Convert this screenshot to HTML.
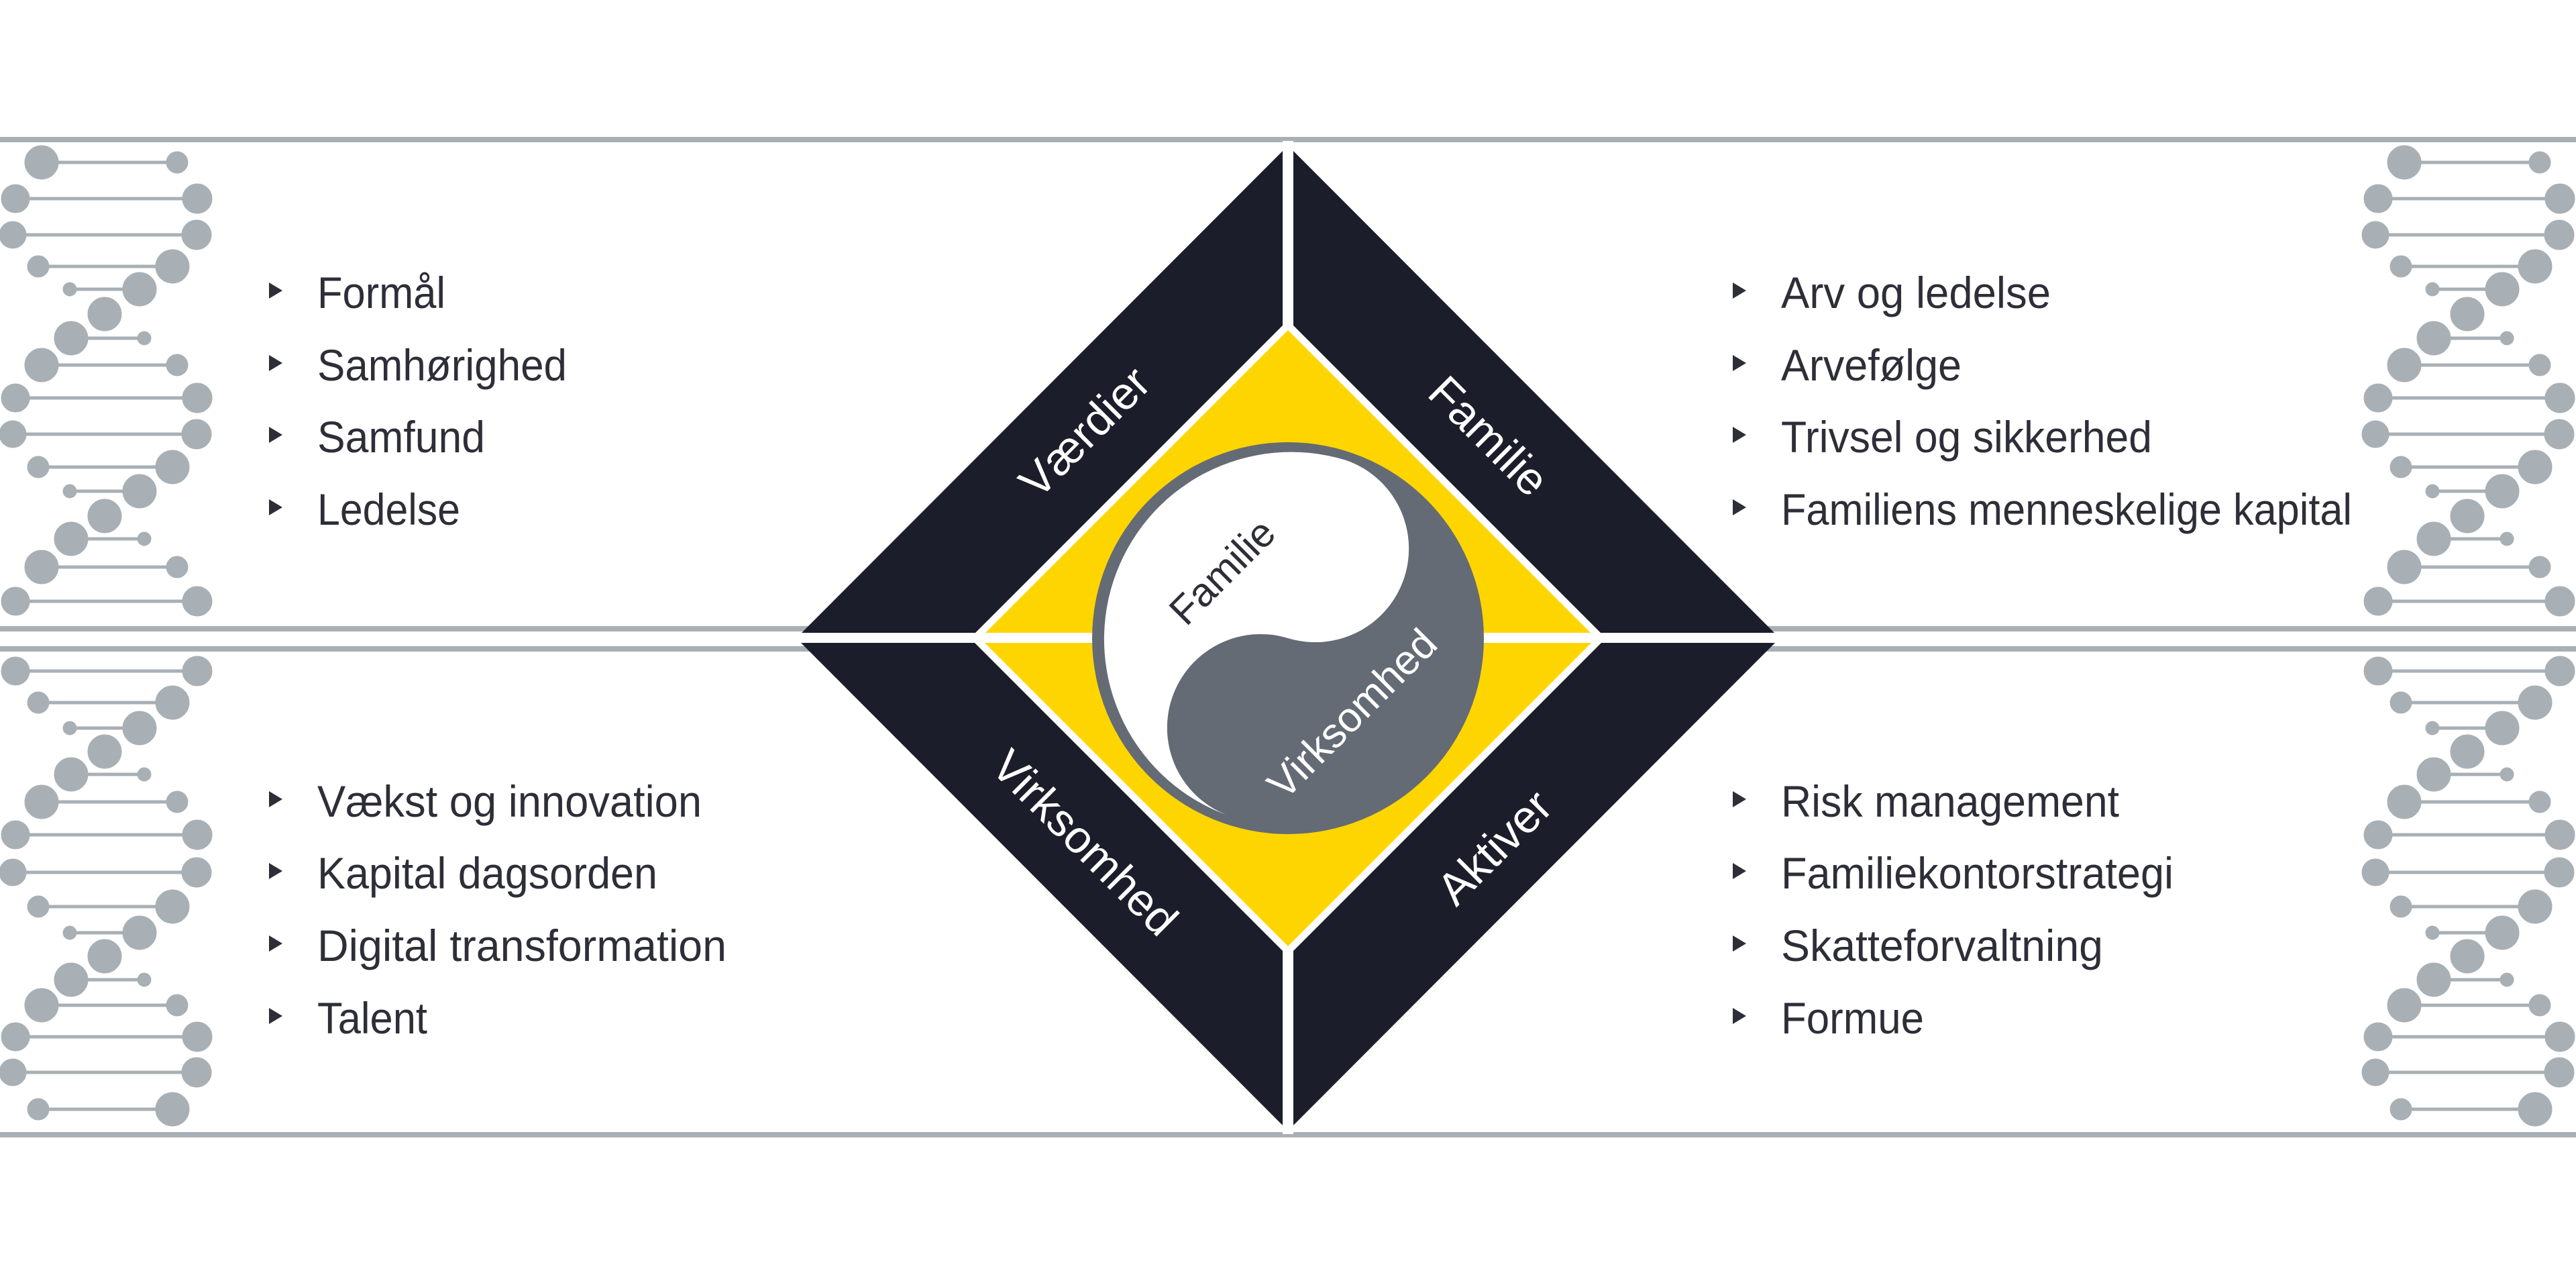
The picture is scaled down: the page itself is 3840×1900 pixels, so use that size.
<!DOCTYPE html>
<html><head><meta charset="utf-8"><style>
html,body{margin:0;padding:0;background:#fff;}
svg{display:block;}
text{font-family:"Liberation Sans",sans-serif;}
</style></head><body>
<svg width="3840" height="1900" viewBox="0 0 3840 1900" xmlns="http://www.w3.org/2000/svg">
<rect width="3840" height="1900" fill="#fff"/>
<g fill="#a7b0b4">
<rect x="0" y="204" width="3840" height="8"/>
<rect x="0" y="933" width="3840" height="8"/>
<rect x="0" y="963" width="3840" height="8"/>
<rect x="0" y="1687" width="3840" height="8"/>
</g>
<defs>
<g id="t0"><line x1="23" y1="0" x2="294" y2="0"/><circle cx="23" cy="0" r="19"/><circle cx="294" cy="0" r="20"/></g>
<g id="t1"><line x1="19" y1="0" x2="293" y2="0"/><circle cx="19" cy="0" r="18"/><circle cx="293" cy="0" r="20"/></g>
<g id="t2"><line x1="57" y1="0" x2="257" y2="0"/><circle cx="57" cy="0" r="14"/><circle cx="257" cy="0" r="23"/></g>
<g id="t3"><line x1="104" y1="0" x2="208" y2="0"/><circle cx="104" cy="0" r="8"/><circle cx="208" cy="0" r="23"/></g>
<g id="t4"><circle cx="156" cy="0" r="23"/></g>
<g id="t5"><line x1="106" y1="0" x2="215" y2="0"/><circle cx="106" cy="0" r="23"/><circle cx="215" cy="0" r="8"/></g>
<g id="t6"><line x1="62" y1="0" x2="264" y2="0"/><circle cx="62" cy="0" r="23"/><circle cx="264" cy="0" r="14"/></g>
<g id="dna">
<use href="#t6" y="242"/><use href="#t0" y="296"/><use href="#t1" y="350"/><use href="#t2" y="397"/><use href="#t3" y="431"/><use href="#t4" y="468"/><use href="#t5" y="504"/><use href="#t6" y="544"/><use href="#t0" y="593"/><use href="#t1" y="647"/><use href="#t2" y="696"/><use href="#t3" y="732"/><use href="#t4" y="769"/><use href="#t5" y="803"/><use href="#t6" y="845"/><use href="#t0" y="896"/>
<use href="#t0" y="1000"/><use href="#t2" y="1047"/><use href="#t3" y="1085"/><use href="#t4" y="1120"/><use href="#t5" y="1154"/><use href="#t6" y="1195"/><use href="#t0" y="1244"/><use href="#t1" y="1300"/><use href="#t2" y="1351"/><use href="#t3" y="1390"/><use href="#t4" y="1425"/><use href="#t5" y="1460"/><use href="#t6" y="1498"/><use href="#t0" y="1545"/><use href="#t1" y="1598"/><use href="#t2" y="1653"/>
</g>
</defs>
<g fill="#a8b0b5" stroke="#a8b0b5" stroke-width="5">
<use href="#dna"/>
<use href="#dna" x="3522"/>
</g>
<polygon points="1920,217 2653,951 1920,1685 1187,951" fill="#1b1e2a"/>
<rect x="1912" y="210" width="16" height="1480" fill="#fff"/>
<polygon points="1920,477 2394,951 1920,1425 1446,951" fill="#fff"/>
<polygon points="1920,492 2379,951 1920,1410 1461,951" fill="#ffd500"/>
<rect x="1180" y="943" width="1480" height="15" fill="#fff"/>
<circle cx="1920" cy="951" r="292" fill="#646b74"/>
<path d="M2006.2,685.7 A279,279 0 0 0 1833.8,1216.3 A139.5,139.5 0 0 1 1920,951 A139.5,139.5 0 0 0 2006.2,685.7 Z" fill="#fff"/>
<g fill="#fff" font-size="68" text-anchor="middle" dominant-baseline="central">
<text transform="translate(1617,644) rotate(-45)">Værdier</text>
<text transform="translate(2219,650) rotate(45)">Familie</text>
<text transform="translate(1617,1256) rotate(45)">Virksomhed</text>
<text transform="translate(2228,1263) rotate(-45)">Aktiver</text>
<text transform="translate(2016,1064) rotate(-45)" font-size="62">Virksomhed</text>
</g>
<text transform="translate(1822,852) rotate(-45)" font-size="60" fill="#2e2e38" text-anchor="middle" dominant-baseline="central">Familie</text>
<g fill="#2e2e38">
<polygon points="401,421 421,433 401,445"/><polygon points="401,529 421,541 401,553"/><polygon points="401,636 421,648 401,660"/><polygon points="401,744 421,756 401,768"/>
<polygon points="401,1179 421,1191 401,1203"/><polygon points="401,1286 421,1298 401,1310"/><polygon points="401,1394 421,1406 401,1418"/><polygon points="401,1502 421,1514 401,1526"/>
<polygon points="2583,421 2603,433 2583,445"/><polygon points="2583,529 2603,541 2583,553"/><polygon points="2583,636 2603,648 2583,660"/><polygon points="2583,744 2603,756 2583,768"/>
<polygon points="2583,1179 2603,1191 2583,1203"/><polygon points="2583,1286 2603,1298 2583,1310"/><polygon points="2583,1394 2603,1406 2583,1418"/><polygon points="2583,1502 2603,1514 2583,1526"/>
</g>
<g fill="#2e2e38" font-size="66">
<text x="473" y="459" textLength="191" lengthAdjust="spacingAndGlyphs">Formål</text>
<text x="473" y="567" textLength="372" lengthAdjust="spacingAndGlyphs">Samhørighed</text>
<text x="473" y="674" textLength="250" lengthAdjust="spacingAndGlyphs">Samfund</text>
<text x="473" y="782" textLength="213" lengthAdjust="spacingAndGlyphs">Ledelse</text>
<text x="473" y="1217" textLength="573" lengthAdjust="spacingAndGlyphs">Vækst og innovation</text>
<text x="473" y="1324" textLength="507" lengthAdjust="spacingAndGlyphs">Kapital dagsorden</text>
<text x="473" y="1432" textLength="610" lengthAdjust="spacingAndGlyphs">Digital transformation</text>
<text x="473" y="1540" textLength="164" lengthAdjust="spacingAndGlyphs">Talent</text>
<text x="2655" y="459" textLength="402" lengthAdjust="spacingAndGlyphs">Arv og ledelse</text>
<text x="2655" y="567" textLength="269" lengthAdjust="spacingAndGlyphs">Arvefølge</text>
<text x="2655" y="674" textLength="553" lengthAdjust="spacingAndGlyphs">Trivsel og sikkerhed</text>
<text x="2655" y="782" textLength="851" lengthAdjust="spacingAndGlyphs">Familiens menneskelige kapital</text>
<text x="2655" y="1217" textLength="504" lengthAdjust="spacingAndGlyphs">Risk management</text>
<text x="2655" y="1324" textLength="585" lengthAdjust="spacingAndGlyphs">Familiekontorstrategi</text>
<text x="2655" y="1432" textLength="480" lengthAdjust="spacingAndGlyphs">Skatteforvaltning</text>
<text x="2655" y="1540" textLength="213" lengthAdjust="spacingAndGlyphs">Formue</text>
</g>
</svg>
</body></html>
